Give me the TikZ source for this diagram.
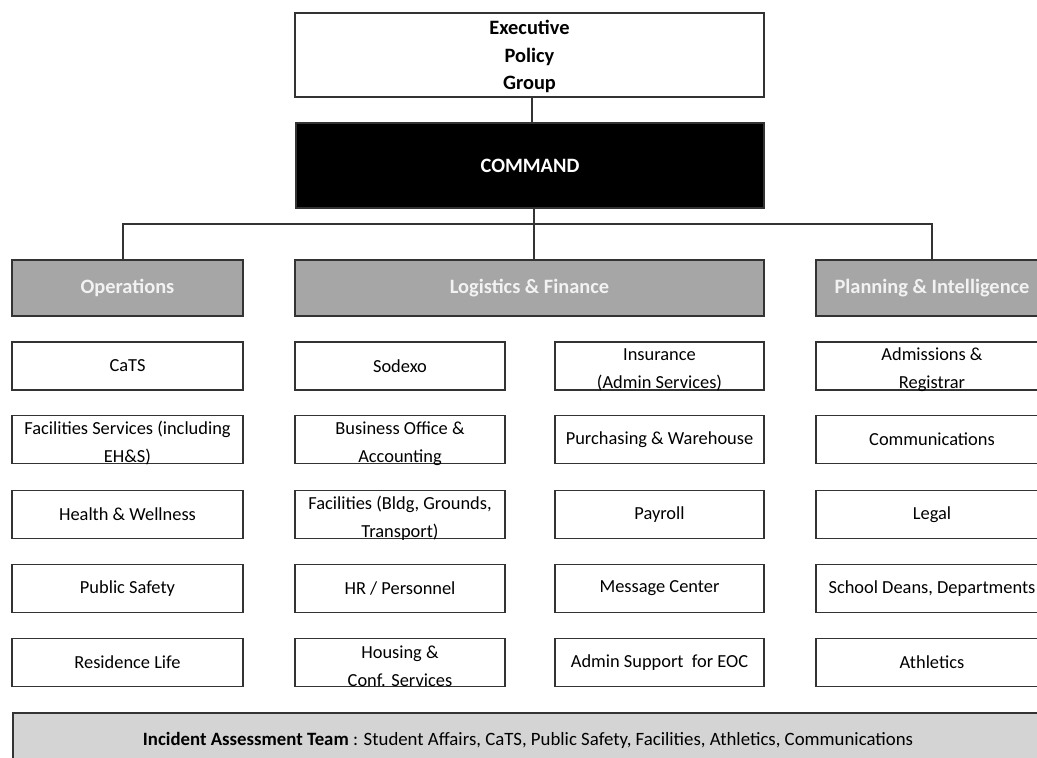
\documentclass[tikz,border=0pt]{standalone}
\usepackage{fontspec}
\setmainfont{Carlito}
\definecolor{edge}{HTML}{333333}
\definecolor{hdrfill}{HTML}{A6A6A6}
\definecolor{hdrtext}{HTML}{F2F2F2}
\definecolor{iatfill}{HTML}{D4D4D4}
\newcommand\twobox[4]{\node[#1] (#2) at (#3) {};
  \node[align=center] (#2-text) at ([yshift=-4pt]#2.center) {#4};}
\begin{document}
\begin{tikzpicture}[x=1pt,y=-1pt,
  every node/.style={font=\fontsize{18.4}{28}\selectfont, inner sep=0pt, outer sep=0pt},
  box/.style={draw=edge, line width=1.6pt, fill=white, rectangle, align=center, minimum height=48pt},
  c1/.style={box, minimum width=231pt},
  c2/.style={box, minimum width=210pt},
  c3/.style={box, minimum width=209pt},
  c4/.style={box, minimum width=232pt},
  hdr/.style={draw=edge, line width=1.6pt, fill=hdrfill, text=hdrtext, font=\fontsize{20.4}{28}\selectfont\bfseries, minimum height=56pt},
  link/.style={draw=edge, line width=1.3pt}]
\useasboundingbox (0,0) rectangle (1037,758);
\clip (0,0) rectangle (1037,758);

% top
\node[box, minimum width=469pt, minimum height=84pt] (exec) at (529.5,55) {};
\node[align=center, font=\fontsize{20.4}{27.5}\selectfont\bfseries] (exec-text) at ([yshift=-1.5pt]exec.center) {Executive\\Policy\\Group};
\node[draw=edge, line width=1.6pt, fill=black, text=white, minimum width=468pt, minimum height=85pt, font=\fontsize{20.4}{28}\selectfont\bfseries] (cmd) at (530,165.5) {COMMAND};

% headers
\node[hdr, minimum width=231pt] (ops) at (127.5,288) {Operations};
\node[hdr, minimum width=469pt] (log) at (529.5,288) {Logistics \& Finance};
\node[hdr, minimum width=232pt] (plan) at (932,288) {Planning \& Intelligence};

% connectors
\coordinate (topx) at (532,0);
\coordinate (bus) at (534,224);
\draw[link] (exec.south -| topx) -- (cmd.north -| topx);
\draw[link] (cmd.south -| bus) -- (log.north -| bus);
\draw[link] ([xshift=-4.5pt]ops.north) |- (bus) -| (plan.north);

% column 1
\node[c1] (cats) at (127.5,366) {CaTS};
\twobox{c1}{fac}{127.5,439.5}{Facilities Services (including\\EH\&S)}
\node[c1] (health) at (127.5,514.5) {Health \& Wellness};
\node[c1] (safety) at (127.5,588.5) {Public Safety};
\node[c1] (res) at (127.5,662.5) {Residence Life};

% column 2
\node[c2] (sodexo) at (400,366) {Sodexo};
\twobox{c2}{busoff}{400,439.5}{Business Office \&\\Accounting}
\twobox{c2}{facb}{400,514.5}{Facilities (Bldg, Grounds,\\Transport)}
\node[c2] (hr) at (400,588.5) {HR / Personnel};
\twobox{c2}{housing}{400,662.5}{Housing \&\\Conf. Services}

% column 3
\twobox{c3}{ins}{659.5,366}{Insurance\\(Admin Services)}
\node[c3] (purch) at (659.5,439.5) {Purchasing \& Warehouse};
\node[c3] (pay) at (659.5,514.5) {Payroll};
\node[c3] (msg) at (659.5,588.5) {Message Center};
\node[c3] (admin) at (659.5,662.5) {Admin Support\ \ for EOC};

% column 4
\twobox{c4}{adm}{932,366}{Admissions \&\\Registrar}
\node[c4] (comm) at (932,439.5) {Communications};
\node[c4] (legal) at (932,514.5) {Legal};
\node[c4] (deans) at (932,588.5) {School Deans, Departments};
\node[c4] (ath) at (932,662.5) {Athletics};

% incident bar
\node[draw=edge, line width=1.6pt, fill=iatfill, minimum width=1030pt, minimum height=54pt, font=\fontsize{18.8}{28}\selectfont] (iat) at (528,740) {\textbf{Incident Assessment Team} : Student Affairs, CaTS, Public Safety, Facilities, Athletics, Communications};
\end{tikzpicture}
\end{document}
